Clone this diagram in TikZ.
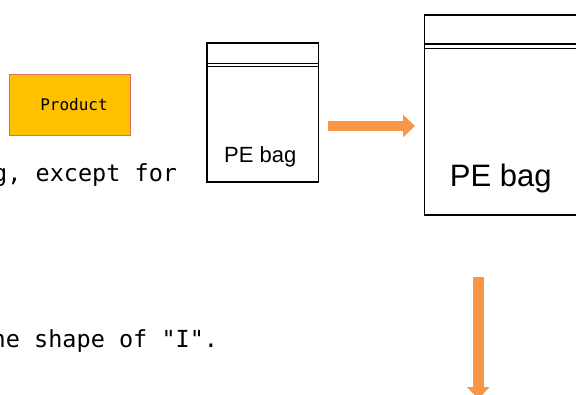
\documentclass[tikz,border=0pt]{standalone}
\usepackage{fontspec}
\usetikzlibrary{arrows.meta}
\newfontfamily\notefont{DejaVu Sans Mono}
\newfontfamily\bagfont{Liberation Sans}
\definecolor{productFill}{HTML}{FFC000}
\definecolor{productDraw}{HTML}{DD6F62}
\definecolor{arrowOrange}{HTML}{F79646}

\begin{document}
\begin{tikzpicture}
[x=1pt,y=-1pt,
  bagDecorate/.style={draw,line width=1.8pt,inner sep=0pt,anchor=north west},
  sealDecorate/.style={-,line width=1.3pt},
  productDecorate/.style={draw=productDraw,fill=productFill,line width=0.8pt,
    minimum width=121pt,minimum height=61pt,inner sep=0pt,
    font=\notefont\fontsize{16}{18}\selectfont},
  noteDecorate/.style={anchor=base west,inner sep=0pt,
    font=\notefont\fontsize{23.5}{28}\selectfont},
  labelDecorate/.style={anchor=base,inner sep=0pt},
  flowArrow/.style={draw=arrowOrange,line width=10.5pt,
    -{Triangle[length=12pt,width=22pt]}}]
\useasboundingbox (0,0) rectangle (576,394);
\clip (0,0) rectangle (576,394);
%% product and notes
\node (product) at (70,104.7) [productDecorate] {\hspace*{8pt}Product};
\node (note1) at (-7,181.5) [noteDecorate] {g, except for};
\node (note2) at (-22.6,347.3) [noteDecorate] {the shape of "I".};
%% bags
\node (smallbag) at (206,42) [bagDecorate,minimum width=111.5pt,minimum height=139pt] {};
\node (bigbag) at (423.5,14.2) [bagDecorate,minimum width=200pt,minimum height=200pt] {};
\foreach \bagname/\first/\second in {smallbag/21.3/24.3, bigbag/29.8/34.6}
{
  \draw[sealDecorate] ([yshift=-\first pt]\bagname.north west) -- ([yshift=-\first pt]\bagname.north east);
  \draw[sealDecorate] ([yshift=-\second pt]\bagname.north west) -- ([yshift=-\second pt]\bagname.north east);
}
\node (smalllabel) at (260.2,162.7) [labelDecorate,font=\bagfont\fontsize{22}{26}\selectfont] {PE bag};
\node (biglabel) at (500.8,186.7) [labelDecorate,font=\bagfont\fontsize{31}{36}\selectfont] {PE bag};
%% arrows
\coordinate (rightstart) at (328.3,126);
\coordinate (rightend) at (415,126);
\coordinate (downstart) at (478.3,277.3);
\coordinate (downend) at (478.3,399);
\draw[flowArrow] (rightstart) -- (rightend);
\draw[flowArrow] (downstart) -- (downend);
\end{tikzpicture}
\end{document}
